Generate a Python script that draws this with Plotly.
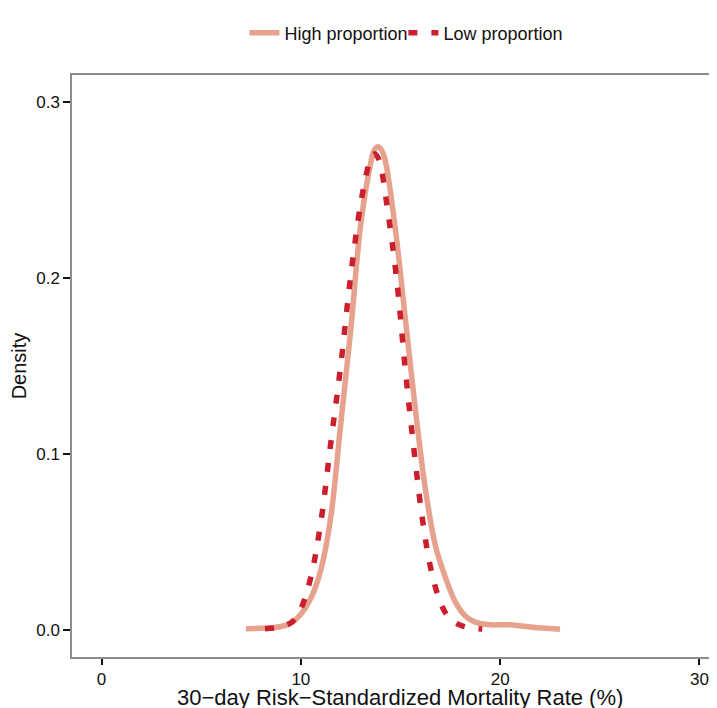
import plotly.graph_objects as go

# Data
series_names = ["High proportion", "Low proportion"]

high_x = [7.25, 8.0, 8.5, 9.0, 9.5, 10.0, 10.5, 11.0, 11.5, 12.0, 12.5, 13.0, 13.5, 13.68,
          13.87, 14.06, 14.25, 14.75, 15.25, 15.75, 16.25, 16.75, 17.25, 17.75, 18.25, 18.75,
          19.5, 20.5, 21.5, 23.0]
high_y = [0.0008, 0.001, 0.0013, 0.002, 0.004, 0.009, 0.018, 0.034, 0.064, 0.117, 0.170, 0.230,
          0.265, 0.2725, 0.2746, 0.2725, 0.266, 0.227, 0.176, 0.125, 0.080, 0.048, 0.030, 0.016,
          0.008, 0.0045, 0.003, 0.003, 0.0018, 0.0005]

low_x = [8.2, 8.7, 9.2, 9.6, 10.0, 10.5, 11.0, 11.5, 12.0, 12.5, 13.0, 13.35, 13.52, 13.68,
         13.84, 14.0, 14.3, 14.8, 15.25, 15.7, 16.1, 16.5, 16.9, 17.3, 17.7, 18.2, 18.7, 19.1]
low_y = [0.0008, 0.0012, 0.0025, 0.005, 0.012, 0.030, 0.061, 0.106, 0.150, 0.201, 0.242, 0.262,
         0.2685, 0.2705, 0.269, 0.264, 0.243, 0.200, 0.147, 0.100, 0.063, 0.036, 0.019, 0.009,
         0.0045, 0.002, 0.001, 0.0006]

x_ticks = [0, 10, 20, 30]
y_ticks = [0.0, 0.1, 0.2, 0.3]
y_tick_text = ["0.0", "0.1", "0.2", "0.3"]

x_title = "30\u2212day Risk\u2212Standardized Mortality Rate (%)"
y_title = "Density"

FONT = "Liberation Sans, Arial, Helvetica, sans-serif"
HIGH_COLOR = "#E6A28D"
LOW_COLOR = "#CC1F2D"
TEXT = "#111111"

fig = go.Figure()
fig.add_trace(go.Scatter(
    x=high_x, y=high_y, mode="lines", name=series_names[0],
    line=dict(color=HIGH_COLOR, width=5.5, shape="spline", smoothing=1.0),
))
fig.add_trace(go.Scatter(
    x=low_x, y=low_y, mode="lines", name=series_names[1],
    line=dict(color=LOW_COLOR, width=5.5, dash="9px,14px", shape="spline", smoothing=1.0),
))

fig.update_layout(
    width=717, height=708,
    margin=dict(l=64, r=0, t=67, b=59, autoexpand=False),
    paper_bgcolor="white", plot_bgcolor="white",
    font=dict(family=FONT, color=TEXT),
    showlegend=True,
    legend=dict(
        orientation="h", x=0.264, xanchor="left", y=1 - 25 / 708, yanchor="middle",
        yref="container",
        font=dict(size=18, family=FONT, color=TEXT),
        bgcolor="rgba(0,0,0,0)", entrywidth=114,
    ),
    xaxis=dict(
        range=[-1.48, 31.28], tickvals=x_ticks, ticktext=[str(v) for v in x_ticks],
        showgrid=False, zeroline=False, automargin=False,
        showline=True, mirror=True, linecolor="#8c8c8c", linewidth=1.5,
        ticks="outside", ticklen=6, tickwidth=2, tickcolor=TEXT,
        tickfont=dict(size=17, family=FONT, color=TEXT),
    ),
    yaxis=dict(
        range=[-0.0153, 0.3153], tickvals=y_ticks, ticktext=y_tick_text,
        showgrid=False, zeroline=False, automargin=False,
        showline=True, mirror=False, linecolor="#8c8c8c", linewidth=1.5,
        ticks="outside", ticklen=7, tickwidth=2, tickcolor=TEXT,
        tickfont=dict(size=17, family=FONT, color=TEXT),
        title=dict(text=y_title, font=dict(size=20, family=FONT, color=TEXT), standoff=8),
    ),
)

fig.add_annotation(
    text=x_title, xref="paper", yref="paper", x=0.502, y=-0.0447,
    xanchor="center", yanchor="top", showarrow=False,
    font=dict(size=22, family=FONT, color=TEXT),
)

fig.write_html("out.html")
